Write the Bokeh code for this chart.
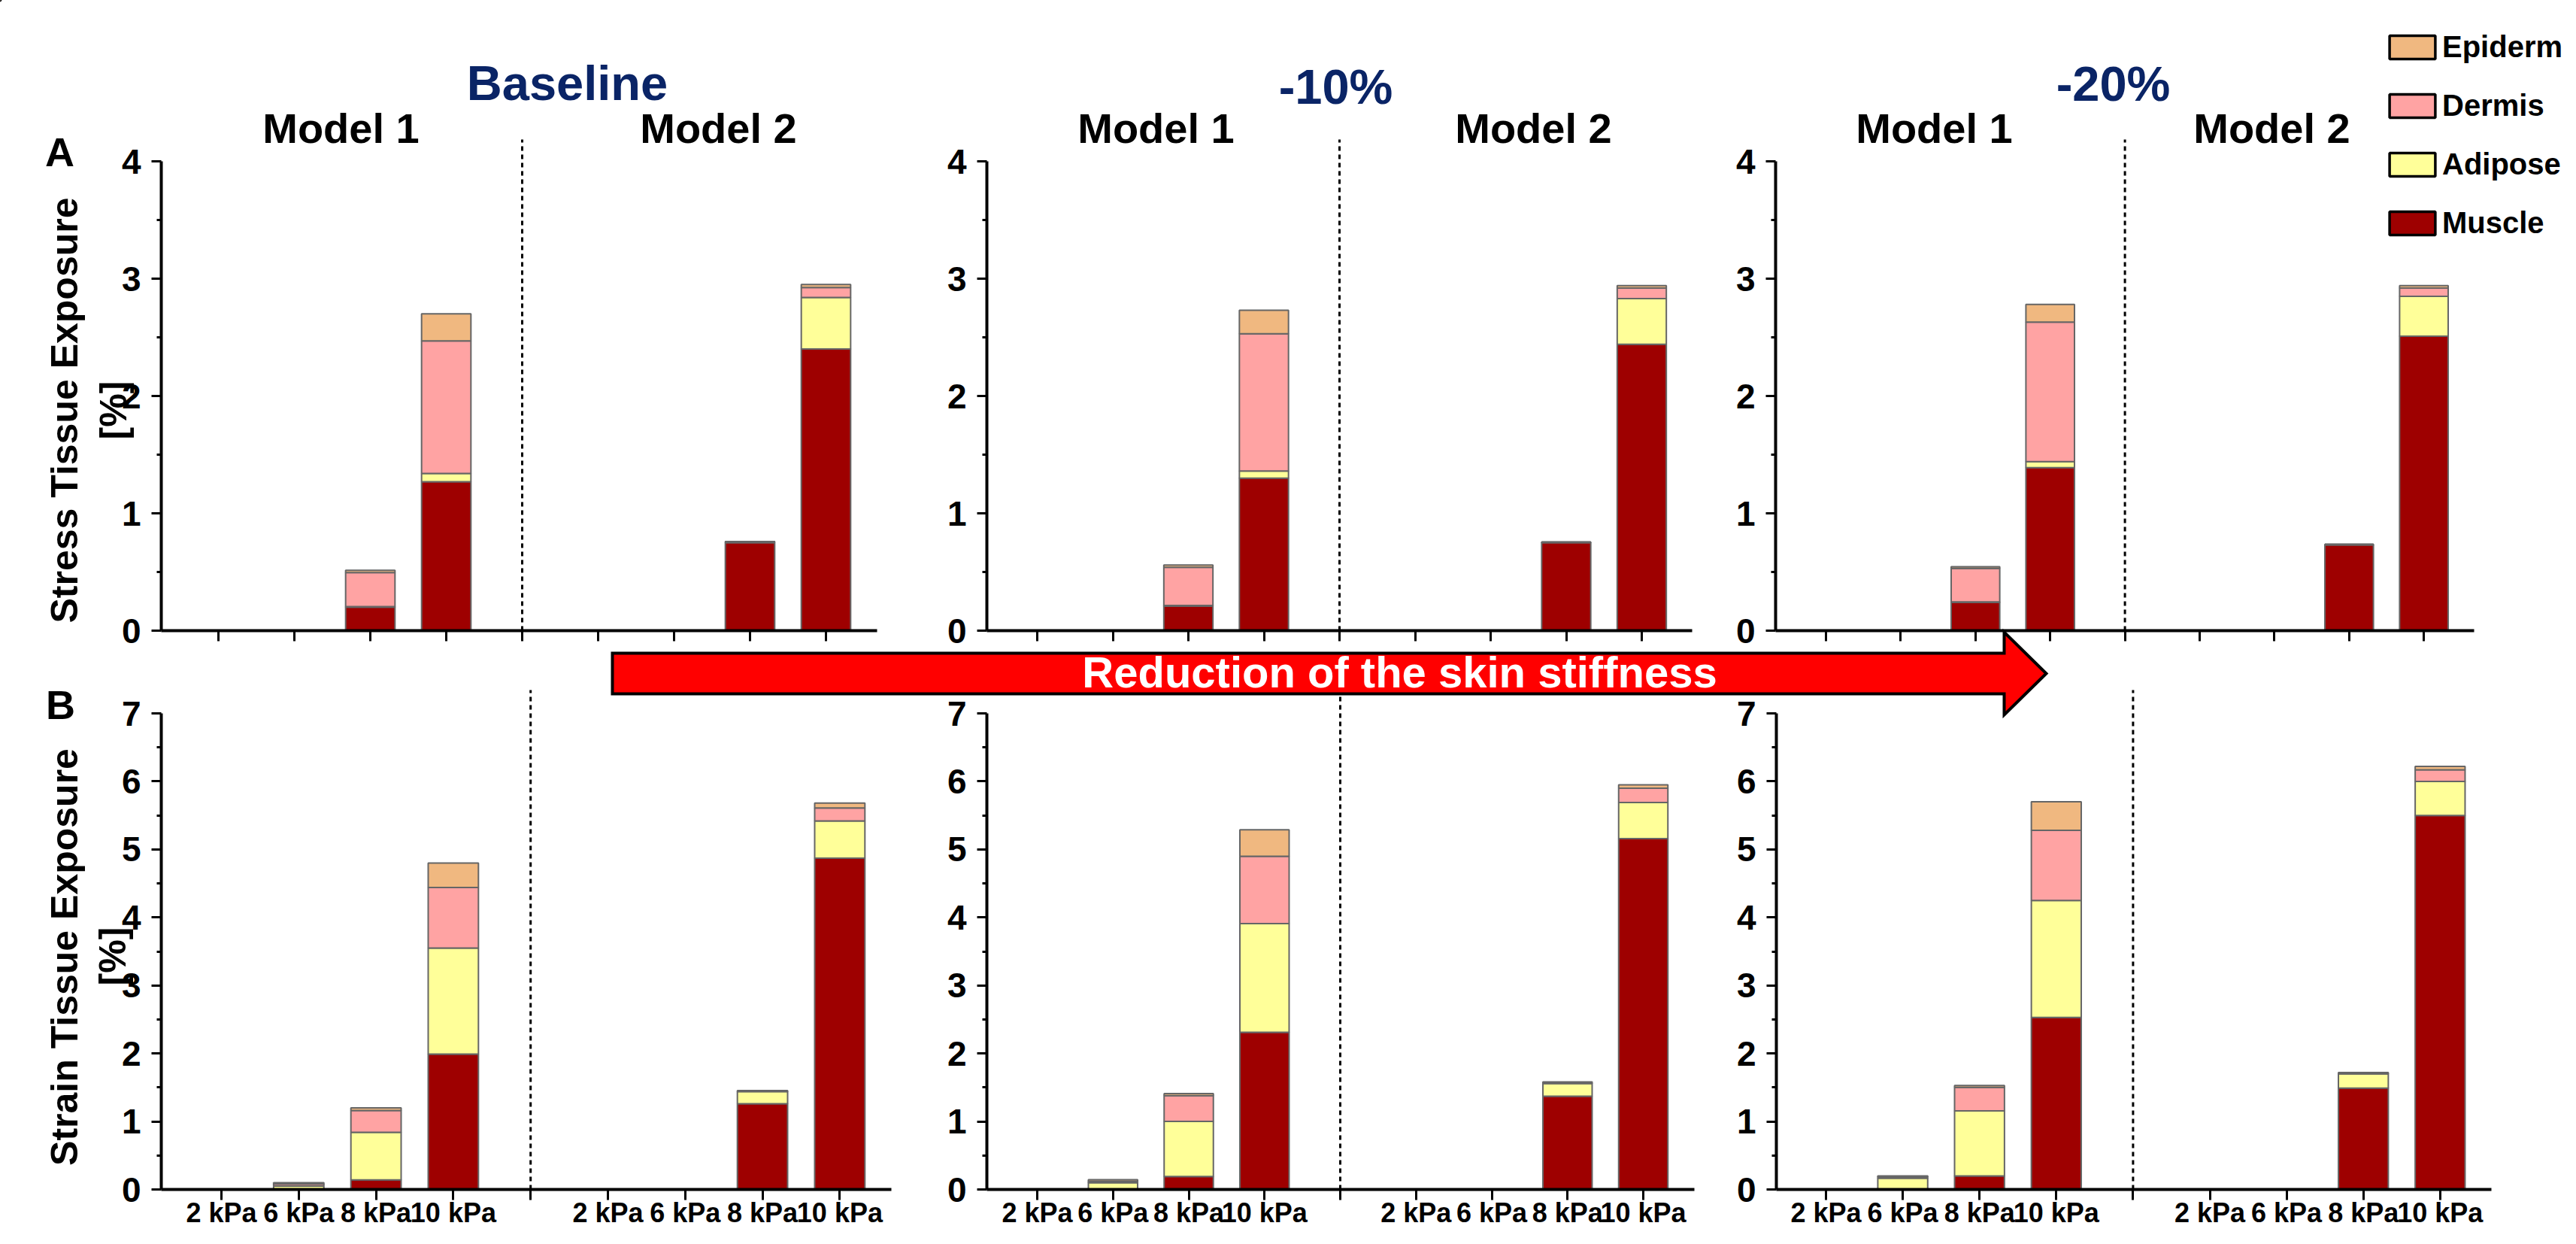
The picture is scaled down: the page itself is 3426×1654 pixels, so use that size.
import math
from bokeh.plotting import figure
from bokeh.models import Range1d, LinearAxis, FixedTicker, ColumnDataSource, Legend, LegendItem
from bokeh.core.properties import value
from bokeh.embed import file_html
from bokeh.resources import INLINE

# ---------------- data ----------------
kpa_labels = ["2 kPa", "6 kPa", "8 kPa", "10 kPa"]
model_labels = ["Model 1", "Model 2"]
condition_labels = ["Baseline", "-10%", "-20%"]
tissues = ["Muscle", "Adipose", "Dermis", "Epidermis"]          # bottom -> top
legend_order = ["Epidermis", "Dermis", "Adipose", "Muscle"]
stress_ticks = [0, 1, 2, 3, 4]
strain_ticks = [0, 1, 2, 3, 4, 5, 6, 7]
row_titles = ["Stress Tissue Exposure", "Strain Tissue Exposure"]
row_units = ["[%]", "[%]"]
panel_letters = ["A", "B"]
arrow_label = "Reduction of the skin stiffness"

# order of each list: Model 1 (2, 6, 8, 10 kPa), Model 2 (2, 6, 8, 10 kPa)
stress_baseline_muscle    = [0, 0, 0.20, 1.27, 0, 0, 0.75, 2.40]
stress_baseline_adipose   = [0, 0, 0.005, 0.07, 0, 0, 0.01, 0.44]
stress_baseline_dermis    = [0, 0, 0.29, 1.13, 0, 0, 0.0, 0.085]
stress_baseline_epidermis = [0, 0, 0.02, 0.23, 0, 0, 0.0, 0.025]

stress_minus10_muscle    = [0, 0, 0.21, 1.30, 0, 0, 0.75, 2.44]
stress_minus10_adipose   = [0, 0, 0.005, 0.06, 0, 0, 0.005, 0.39]
stress_minus10_dermis    = [0, 0, 0.325, 1.17, 0, 0, 0.0, 0.09]
stress_minus10_epidermis = [0, 0, 0.02, 0.20, 0, 0, 0.0, 0.02]

stress_minus20_muscle    = [0, 0, 0.24, 1.39, 0, 0, 0.73, 2.51]
stress_minus20_adipose   = [0, 0, 0.005, 0.05, 0, 0, 0.005, 0.34]
stress_minus20_dermis    = [0, 0, 0.285, 1.19, 0, 0, 0.0, 0.07]
stress_minus20_epidermis = [0, 0, 0.015, 0.15, 0, 0, 0.0, 0.02]

strain_baseline_muscle    = [0, 0, 0.14, 1.99, 0, 0, 1.26, 4.87]
strain_baseline_adipose   = [0, 0.05, 0.70, 1.56, 0, 0, 0.18, 0.55]
strain_baseline_dermis    = [0, 0.03, 0.32, 0.89, 0, 0, 0.0, 0.19]
strain_baseline_epidermis = [0, 0.02, 0.04, 0.36, 0, 0, 0.015, 0.07]

strain_minus10_muscle    = [0, 0, 0.19, 2.31, 0, 0, 1.37, 5.16]
strain_minus10_adipose   = [0, 0.10, 0.81, 1.60, 0, 0, 0.19, 0.53]
strain_minus10_dermis    = [0, 0.02, 0.38, 0.99, 0, 0, 0.0, 0.21]
strain_minus10_epidermis = [0, 0.025, 0.03, 0.39, 0, 0, 0.02, 0.05]

strain_minus20_muscle    = [0, 0, 0.20, 2.53, 0, 0, 1.49, 5.50]
strain_minus20_adipose   = [0, 0.165, 0.955, 1.72, 0, 0, 0.21, 0.50]
strain_minus20_dermis    = [0, 0.02, 0.345, 1.03, 0, 0, 0.0, 0.17]
strain_minus20_epidermis = [0, 0.015, 0.03, 0.42, 0, 0, 0.02, 0.05]

# ---------------- styles / layout ----------------
colors = {"Muscle": "#9e0000", "Adipose": "#ffff99", "Dermis": "#ffa3a3", "Epidermis": "#f0b880"}
NAVY = "#0a2466"
FONT = "Liberation Sans"
OFF = 8
W, H = 3410, 1638

categories = [(m, k) for m in model_labels for k in kpa_labels]
gap_index = len(kpa_labels)
xpos = [i + (1 if i >= gap_index else 0) for i in range(len(categories))]
all_ticks = list(range(len(categories) + 1))

p = figure(width=W, height=H, x_range=Range1d(0, W), y_range=Range1d(H, 0),
           output_backend="svg", toolbar_location=None,
           x_axis_location=None, y_axis_location=None,
           min_border=0, outline_line_color=None)
p.grid.grid_line_color = None
p.background_fill_color = "white"
p.border_fill_color = "white"

rows = {
    "A": dict(y0=846, ytop=222, vmax=4, dash_top=193, ticks=stress_ticks),
    "B": dict(y0=1589, ytop=956, vmax=7, dash_top=925, ticks=strain_ticks),
}
panels = [
    ("A", "A1", 222, 298, 101.0,
     [stress_baseline_muscle, stress_baseline_adipose, stress_baseline_dermis, stress_baseline_epidermis]),
    ("A", "A2", 1320, 1387, 100.5,
     [stress_minus10_muscle, stress_minus10_adipose, stress_minus10_dermis, stress_minus10_epidermis]),
    ("A", "A3", 2369, 2436, 99.4,
     [stress_minus20_muscle, stress_minus20_adipose, stress_minus20_dermis, stress_minus20_epidermis]),
    ("B", "B1", 222, 302, 102.8,
     [strain_baseline_muscle, strain_baseline_adipose, strain_baseline_dermis, strain_baseline_epidermis]),
    ("B", "B2", 1320, 1387, 100.75,
     [strain_minus10_muscle, strain_minus10_adipose, strain_minus10_dermis, strain_minus10_epidermis]),
    ("B", "B3", 2370, 2436, 102.1,
     [strain_minus20_muscle, strain_minus20_adipose, strain_minus20_dermis, strain_minus20_epidermis]),
]

for rname, g in rows.items():
    k = (g["y0"] - g["ytop"]) / g["vmax"]
    c0 = g["y0"] - OFF
    p.extra_y_ranges[rname] = Range1d(start=(c0 - H) / k, end=c0 / k)
    g["k"] = k

for rname, pname, ax_x, t0, dx, series in panels:
    g = rows[rname]
    c0 = t0 - OFF
    p.extra_x_ranges[pname] = Range1d(start=(0 - c0) / dx, end=(W - c0) / dx)
    yloc = (ax_x - t0) / dx

    data = {"x": xpos}
    for t, vals in zip(tissues, series):
        data[t] = vals
    src = ColumnDataSource(data)
    p.vbar_stack(tissues, x="x", width=0.65, source=src,
                 fill_color=[colors[t] for t in tissues],
                 line_color="#666666", line_width=2,
                 x_range_name=pname, y_range_name=rname)

    p.segment(x0=[gap_index], y0=[0], x1=[gap_index], y1=[(g["y0"] - g["dash_top"]) / g["k"]],
              line_color="black", line_width=3, line_dash="6 5",
              x_range_name=pname, y_range_name=rname)

    minor = [t + 0.5 for t in g["ticks"][:-1]]
    yax = LinearAxis(x_range_name=pname, y_range_name=rname, fixed_location=yloc,
                     bounds=(0, g["vmax"]),
                     ticker=FixedTicker(ticks=g["ticks"], minor_ticks=minor),
                     axis_line_width=4, major_tick_line_width=3, minor_tick_line_width=3,
                     major_tick_in=0, major_tick_out=13, minor_tick_in=0, minor_tick_out=6,
                     major_label_standoff=14,
                     major_label_text_font=FONT, major_label_text_font_style="bold",
                     major_label_text_font_size="46px", major_label_text_color="black")
    p.add_layout(yax, "left")

    if rname == "B":
        overrides = {}
        for i, (m, kp) in enumerate(categories):
            overrides[xpos[i]] = kp
        overrides[gap_index] = ""
        fs = "36px"
    else:
        overrides = {t: "" for t in all_ticks}
        fs = "10px"
    xax = LinearAxis(x_range_name=pname, y_range_name=rname, fixed_location=0,
                     bounds=(yloc, all_ticks[-1] + 0.67),
                     ticker=FixedTicker(ticks=all_ticks, minor_ticks=[]),
                     major_label_overrides=overrides,
                     axis_line_width=4, major_tick_line_width=3,
                     major_tick_in=0, major_tick_out=14, minor_tick_in=0, minor_tick_out=0,
                     major_label_standoff=-4,
                     major_label_text_font=FONT, major_label_text_font_style="bold",
                     major_label_text_font_size=fs, major_label_text_color="black")
    p.add_layout(xax, "below")

# ---------------- titles & labels (reference pixel positions, cap centres) ----------------
p.text(x=[762 - OFF, 1784 - OFF, 2818 - OFF], y=[118 - OFF, 123 - OFF, 119 - OFF],
       text=condition_labels, text_font=value(FONT), text_font_style="bold",
       text_font_size="65px", text_color=NAVY, text_align="center", text_baseline="middle")

p.text(x=[461 - OFF, 963 - OFF, 1545 - OFF, 2047 - OFF, 2580 - OFF, 3029 - OFF],
       y=[178 - OFF] * 6, text=model_labels * 3, text_font=value(FONT), text_font_style="bold",
       text_font_size="56px", text_color="black", text_align="center", text_baseline="middle")

p.text(x=[87 - OFF, 88 - OFF], y=[209 - OFF, 944 - OFF], text=panel_letters,
       text_font=value(FONT), text_font_style="bold", text_font_size="54px",
       text_color="black", text_align="center", text_baseline="middle")

p.text(x=[93 - OFF, 93 - OFF], y=[553 - OFF, 1280 - OFF], text=row_titles, angle=math.pi / 2,
       text_font=value(FONT), text_font_style="bold", text_font_size="50px",
       text_color="black", text_align="center", text_baseline="middle")
p.text(x=[158 - OFF, 157 - OFF], y=[553 - OFF, 1279 - OFF], text=row_units, angle=math.pi / 2,
       text_font=value(FONT), text_font_style="bold", text_font_size="50px",
       text_color="black", text_align="center", text_baseline="middle")

# ---------------- arrow ----------------
ax_pts = [(822, 876), (2673, 876), (2673, 848), (2729, 903), (2673, 958), (2673, 930), (822, 930)]
p.patch([a - OFF for a, b in ax_pts], [b - OFF for a, b in ax_pts],
        fill_color="#ff0000", line_color="black", line_width=4, line_join="miter")
p.text(x=[1869 - OFF], y=[901 - OFF], text=[arrow_label], text_font=value(FONT),
       text_font_style="bold", text_font_size="58px", text_color="white",
       text_align="center", text_baseline="middle")

# ---------------- legend ----------------
leg_r = {}
for t in tissues:
    leg_r[t] = p.vbar(x=[-1000], top=[-1000], bottom=[-1000], width=1,
                      fill_color=colors[t], line_color="black", line_width=3.5)
legend = Legend(items=[LegendItem(label=t, renderers=[leg_r[t]]) for t in legend_order],
                location=(3170, 1319), orientation="vertical",
                glyph_width=76, glyph_height=39, label_standoff=2, spacing=33,
                padding=0, margin=0, border_line_color=None, background_fill_alpha=0,
                label_text_font=FONT, label_text_font_style="bold",
                label_text_font_size="40px", label_text_color="black")
p.add_layout(legend)

open("out.html", "w").write(file_html(p, INLINE))
